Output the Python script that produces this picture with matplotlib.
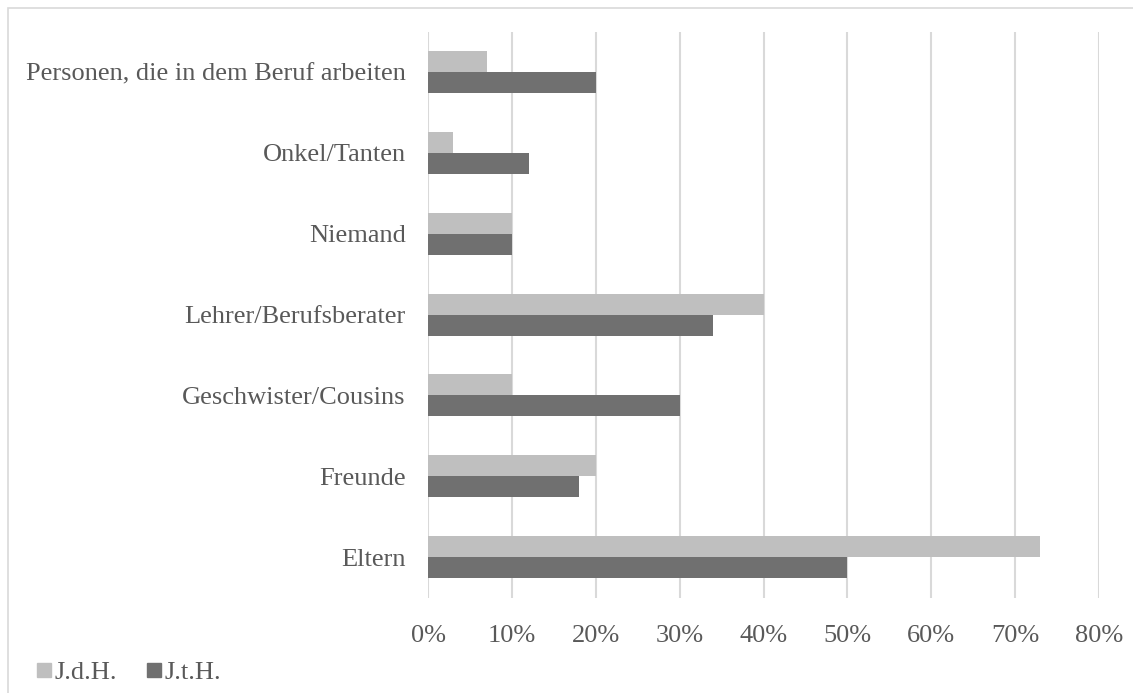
import numpy as np
import matplotlib

matplotlib.use("Agg")
import matplotlib.pyplot as plt
from matplotlib.patches import Rectangle
from matplotlib.lines import Line2D

plt.rcParams["font.family"] = ["Liberation Serif", "DejaVu Serif"]

categories = [
    "Eltern",
    "Freunde",
    "Geschwister/Cousins",
    "Lehrer/Berufsberater",
    "Niemand",
    "Onkel/Tanten",
    "Personen, die in dem Beruf arbeiten",
]
jdh = [73, 20, 10, 40, 10, 3, 7]
jth = [50, 18, 30, 34, 10, 12, 20]
series_names = ["J.d.H.", "J.t.H."]
ticks = [0, 10, 20, 30, 40, 50, 60, 70, 80]

LIGHT = "#BFBFBF"
DARK = "#707070"
TEXT = "#595959"
GRID = "#D9D9D9"

fig = plt.figure(figsize=(11.33, 6.93), dpi=100)
ax = fig.add_axes([0.3778, 0.1377, 0.5922, 0.8167])

y = np.arange(len(categories))
h = 0.26
ax.barh(y + h / 2, jdh, height=h, color=LIGHT, label=series_names[0])
ax.barh(y - h / 2, jth, height=h, color=DARK, label=series_names[1])

ax.set_xlim(0, 80)
ax.set_ylim(-0.5, len(categories) - 0.5)
ax.set_xticks(ticks)
ax.set_xticklabels([f"{t}%" for t in ticks])
ax.set_yticks(y)
ax.set_yticklabels(categories)
ax.tick_params(axis="both", length=0, labelsize=19, labelcolor=TEXT)
ax.tick_params(axis="x", pad=20)
ax.tick_params(axis="y", pad=16)
ax.xaxis.grid(True, color=GRID, linewidth=1.5)
ax.set_axisbelow(True)
for s in ax.spines.values():
    s.set_visible(False)

handles = [
    Line2D([], [], marker="s", linestyle="none", markersize=10, color=LIGHT),
    Line2D([], [], marker="s", linestyle="none", markersize=10, color=DARK),
]
fig.legend(handles, series_names, loc="lower left", bbox_to_anchor=(0.006, -0.022),
           ncol=2, frameon=False, fontsize=19, labelcolor=TEXT,
           handletextpad=-0.1, columnspacing=0.9, handlelength=1.0)

fig.patches.append(Rectangle((0.007, -0.01), 1.0, 0.998, transform=fig.transFigure,
                             fill=False, edgecolor=GRID, linewidth=1.2))

fig.savefig("out.png", dpi=100)
